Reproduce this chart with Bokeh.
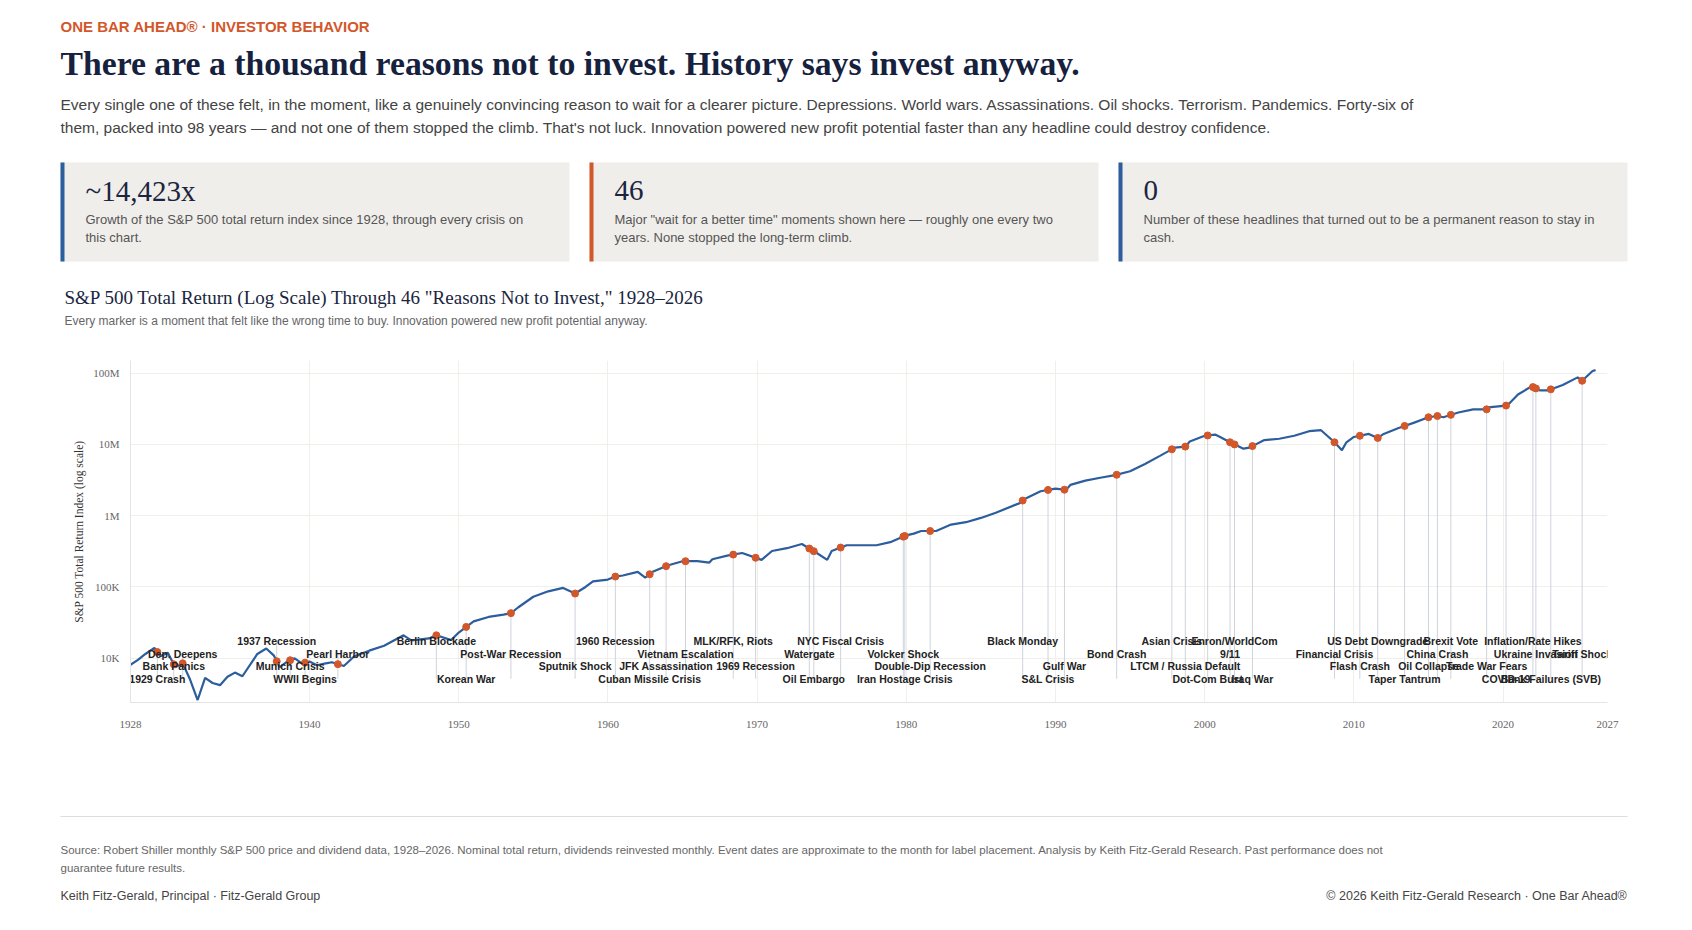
import numpy as np
from bokeh.plotting import figure
from bokeh.layouts import column, row
from bokeh.models import Range1d, FixedTicker, CustomJSTickFormatter, ColumnDataSource
from bokeh.core.properties import value
from bokeh.embed import file_html
from bokeh.resources import INLINE

# ---------------- data ----------------
years = [1928.0, 1928.5, 1929.0, 1929.6, 1930.0, 1930.5, 1931.0, 1931.5, 1932.0, 1932.5, 1933.0, 1933.5,
         1934.0, 1934.5, 1935.0, 1935.5, 1936.5, 1937.1, 1937.6, 1938.0, 1938.5, 1939.0, 1939.5,
         1940.0, 1940.5, 1941.0, 1941.5, 1942.3, 1943.0, 1944.0, 1945.0, 1946.3, 1946.8, 1947.0, 1948.0,
         1948.5, 1949.5, 1950.0, 1951.0,
         1952.0, 1953.0, 1953.5, 1954.0, 1955.0, 1956.0, 1957.0, 1957.8, 1958.5, 1959.0, 1960.0, 1960.5,
         1961.0, 1962.0, 1962.5, 1963.0, 1964.0, 1965.0, 1966.0, 1966.8, 1967.0, 1968.0, 1969.0, 1970.3,
         1971.0, 1972.0, 1973.0, 1974.0, 1974.7, 1975.0, 1976.0, 1977.0, 1978.0, 1979.0, 1980.0, 1980.5,
         1981.0, 1982.0, 1983.0, 1984.0, 1985.0, 1986.0, 1987.6, 1987.9, 1989.0, 1990.0, 1990.7, 1991.0,
         1992.0, 1993.0, 1994.0, 1995.0, 1996.0, 1997.0, 1998.0, 1998.7, 1999.0, 2000.0, 2000.7, 2001.0,
         2001.7, 2002.6, 2003.0, 2004.0, 2005.0, 2006.0, 2007.0, 2007.8, 2008.7, 2009.2, 2009.5, 2010.0,
         2011.0, 2011.6, 2012.0, 2013.0, 2014.0, 2015.0, 2015.6, 2016.0, 2017.0, 2018.0, 2018.9, 2019.0,
         2020.2, 2020.4, 2021.0, 2021.9, 2022.5, 2023.0, 2024.0, 2025.0, 2025.3, 2026.0, 2026.2]
tr_index = [8.1e3, 9.5e3, 11.5e3, 14e3, 10.7e3, 12e3, 7.5e3, 8.5e3, 5e3, 2.6e3, 5.3e3, 4.5e3,
            4.2e3, 5.5e3, 6.3e3, 5.6e3, 11.5e3, 13.7e3, 11e3, 7.5e3, 9e3, 10e3, 8.5e3,
            9e3, 8e3, 8.4e3, 8.8e3, 7.8e3, 10.7e3, 12.8e3, 15e3, 21e3, 18e3, 18e3, 19e3,
            21e3, 18e3, 23e3, 33e3,
            38e3, 41e3, 43e3, 52e3, 73e3, 87e3, 97e3, 81e3, 100e3, 120e3, 127e3, 140e3,
            145e3, 163e3, 135e3, 163e3, 200e3, 230e3, 230e3, 220e3, 245e3, 275e3, 300e3, 240e3,
            320e3, 350e3, 400e3, 300e3, 240e3, 320e3, 385e3, 385e3, 385e3, 430e3, 530e3, 560e3,
            610e3, 610e3, 750e3, 810e3, 930e3, 1.1e6, 1.5e6, 1.7e6, 2.2e6, 2.4e6, 2.3e6, 2.7e6,
            3.1e6, 3.4e6, 3.7e6, 4.2e6, 5.3e6, 6.9e6, 9e6, 9.3e6, 11e6, 13.2e6, 13.7e6, 12.8e6,
            10.7e6, 8.7e6, 9e6, 11.5e6, 12e6, 13.2e6, 15.3e6, 15.8e6, 10.7e6, 8.3e6, 10.7e6, 12.7e6,
            14e6, 12.3e6, 14e6, 17e6, 20e6, 24e6, 25e6, 24e6, 28e6, 31e6, 31e6, 33e6,
            35e6, 37e6, 50e6, 65e6, 57e6, 57e6, 68e6, 87e6, 78e6, 107e6, 110e6]

event_years = [1937.8, 1948.5, 1960.5, 1968.4, 1975.6, 1987.8, 1997.8, 2002.0, 2011.6, 2016.5, 2022.0,
               1931.5, 1941.9, 1953.5, 1965.2, 1973.5, 1979.8, 1994.1, 2001.7, 2008.7, 2015.6, 2022.2, 2025.3,
               1930.9, 1938.7, 1957.8, 1963.9, 1969.9, 1981.6, 1990.6, 1998.7, 2010.4, 2015.0, 2018.9,
               1929.8, 1939.7, 1950.5, 1962.8, 1973.8, 1979.9, 1989.5, 2000.2, 2003.2, 2013.4, 2020.2, 2023.2]
event_labels = ["1937 Recession", "Berlin Blockade", "1960 Recession", "MLK/RFK, Riots", "NYC Fiscal Crisis",
                "Black Monday", "Asian Crisis", "Enron/WorldCom", "US Debt Downgrade", "Brexit Vote",
                "Inflation/Rate Hikes",
                "Dep. Deepens", "Pearl Harbor", "Post-War Recession", "Vietnam Escalation", "Watergate",
                "Volcker Shock", "Bond Crash", "9/11", "Financial Crisis", "China Crash", "Ukraine Invasion",
                "Tariff Shock",
                "Bank Panics", "Munich Crisis", "Sputnik Shock", "JFK Assassination", "1969 Recession",
                "Double-Dip Recession", "Gulf War", "LTCM / Russia Default", "Flash Crash", "Oil Collapse",
                "Trade War Fears",
                "1929 Crash", "WWII Begins", "Korean War", "Cuban Missile Crisis", "Oil Embargo",
                "Iran Hostage Crisis", "S&L Crisis", "Dot-Com Bust", "Iraq War", "Taper Tantrum",
                "COVID-19", "Bank Failures (SVB)"]
event_rows = [0]*11 + [1]*12 + [2]*11 + [3]*12

x_ticks = [1928, 1940, 1950, 1960, 1970, 1980, 1990, 2000, 2010, 2020, 2027]
y_ticks = [1e4, 1e5, 1e6, 1e7, 1e8]

BLUE = "#2c5d9c"
ORANGE = "#d2572b"
NAVY = "#16213e"
SERIF = value("Liberation Serif")
SANS = value("Liberation Sans")

W = 1676
HH = 330      # header height
CH = 408      # chart height
FH = 180      # footer height

def blank(h, y0, y1):
    f = figure(width=W, height=h, x_range=Range1d(0, W), y_range=Range1d(y1, y0),
               output_backend="svg", toolbar_location=None, min_border=0,
               x_axis_location=None, y_axis_location=None)
    f.grid.visible = False
    f.outline_line_color = None
    return f

def txt(f, x, y, s, size, color, font=SANS, style="normal", align="left"):
    f.text(x=[x], y=[y], text=[s], text_font=font, text_font_size=size, text_color=color,
           text_font_style=style, text_baseline="middle", text_align=align)

# ---------------- header ----------------
h = blank(HH, 0, HH)
txt(h, 60, 26, "ONE BAR AHEAD®  ·  INVESTOR BEHAVIOR", "15px", ORANGE, style="bold")
txt(h, 60, 63, "There are a thousand reasons not to invest. History says invest anyway.", "33.7px", NAVY, SERIF, "bold")
txt(h, 60, 104, "Every single one of these felt, in the moment, like a genuinely convincing reason to wait for a clearer picture. Depressions. World wars. Assassinations. Oil shocks. Terrorism. Pandemics. Forty-six of", "15.5px", "#444444")
txt(h, 60, 127, "them, packed into 98 years — and not one of them stopped the climb. That's not luck. Innovation powered new profit potential faster than any headline could destroy confidence.", "15.5px", "#444444")

cards = [(60, 569, BLUE, "~14,423x", ["Growth of the S&P 500 total return index since 1928, through every crisis on", "this chart."]),
         (589, 1098, ORANGE, "46", ["Major \"wait for a better time\" moments shown here — roughly one every two", "years. None stopped the long-term climb."]),
         (1118, 1627, BLUE, "0", ["Number of these headlines that turned out to be a permanent reason to stay in", "cash."])]
for x0, x1, c, big, lines in cards:
    h.quad(left=[x0], right=[x1], top=[162], bottom=[261], fill_color="#f0eeea", line_color=None)
    h.quad(left=[x0], right=[x0 + 4], top=[162], bottom=[261], fill_color=c, line_color=None)
    txt(h, x0 + 25, 190, big, "29px", "#1c2540", SERIF)
    txt(h, x0 + 25, 219, lines[0], "13px", "#555555")
    txt(h, x0 + 25, 237, lines[1], "13px", "#555555")

txt(h, 64, 297, "S&P 500 Total Return (Log Scale) Through 46 \"Reasons Not to Invest,\" 1928–2026", "19px", "#1a2540", SERIF)
txt(h, 64, 320, "Every marker is a moment that felt like the wrong time to buy. Innovation powered new profit potential anyway.", "12px", "#666666")

# ---------------- chart ----------------
p = figure(width=W, height=CH, y_axis_type="log", x_range=Range1d(1928, 2027),
           y_range=Range1d(2400, 1.5e8), output_backend="svg", toolbar_location=None,
           min_border_top=30, min_border_bottom=36, min_border_left=130, min_border_right=69)
p.outline_line_color = None
p.xaxis.ticker = FixedTicker(ticks=x_ticks)
p.yaxis.ticker = FixedTicker(ticks=y_ticks)
p.yaxis.formatter = CustomJSTickFormatter(code="""
if (tick >= 1e6) return (tick/1e6).toFixed(0) + 'M';
return (tick/1e3).toFixed(0) + 'K';""")
for ax in (p.xaxis[0], p.yaxis[0]):
    ax.major_label_text_font = "Liberation Serif"
    ax.major_label_text_font_size = "11px"
    ax.major_label_text_color = "#666666"
    ax.axis_line_color = "#e4e4e4"
    ax.major_tick_line_color = None
    ax.minor_tick_line_color = None
p.xaxis.major_label_standoff = 12
p.yaxis.axis_label = "S&P 500 Total Return Index (log scale)"
p.yaxis.axis_label_text_font = "Liberation Serif"
p.yaxis.axis_label_text_font_style = "normal"
p.yaxis.axis_label_text_font_size = "11.5px"
p.yaxis.axis_label_text_color = "#333333"
p.grid.grid_line_color = "#f0efe9"

ey = np.array(event_years)
ev_vals = 10 ** np.interp(ey, years, np.log10(tr_index))
row_px = np.array([641, 654, 666, 679]) - 658.6
row_vals = 10 ** (4 - row_px / 71.3)
lab_vals = row_vals[np.array(event_rows)]
top_vals = np.maximum(lab_vals, ev_vals)
p.segment(x0=ey, x1=ey, y0=np.full(len(ey), row_vals[3]), y1=top_vals,
          line_color="#cfd3dc", line_width=1)

p.line(years, tr_index, line_color=BLUE, line_width=2.2)
p.scatter(ey, ev_vals, size=7, fill_color=ORANGE, line_color=ORANGE)

src = ColumnDataSource(dict(x=ey, y=lab_vals, t=event_labels))
p.text(x="x", y="y", text="t", source=src, text_font=SANS, text_font_size="10.5px",
       text_font_style="bold", text_color="#222222", text_align="center", text_baseline="middle")

# ---------------- footer ----------------
F0 = HH + CH + 4
f = blank(FH, F0, F0 + FH)
f.segment(x0=[60], x1=[1627], y0=[820], y1=[820], line_color="#dddddd", line_width=1)
txt(f, 60, 853, "Source: Robert Shiller monthly S&P 500 price and dividend data, 1928–2026. Nominal total return, dividends reinvested monthly. Event dates are approximate to the month for label placement. Analysis by Keith Fitz-Gerald Research. Past performance does not", "11.5px", "#666666")
txt(f, 60, 871, "guarantee future results.", "11.5px", "#666666")
txt(f, 60, 899, "Keith Fitz-Gerald, Principal · Fitz-Gerald Group", "12.5px", "#444444")
txt(f, 1627, 899, "© 2026 Keith Fitz-Gerald Research · One Bar Ahead®", "12.5px", "#444444", align="right")

layout = column(row(h), p, row(f), spacing=0)
open("out.html", "w").write(file_html(layout, INLINE))
